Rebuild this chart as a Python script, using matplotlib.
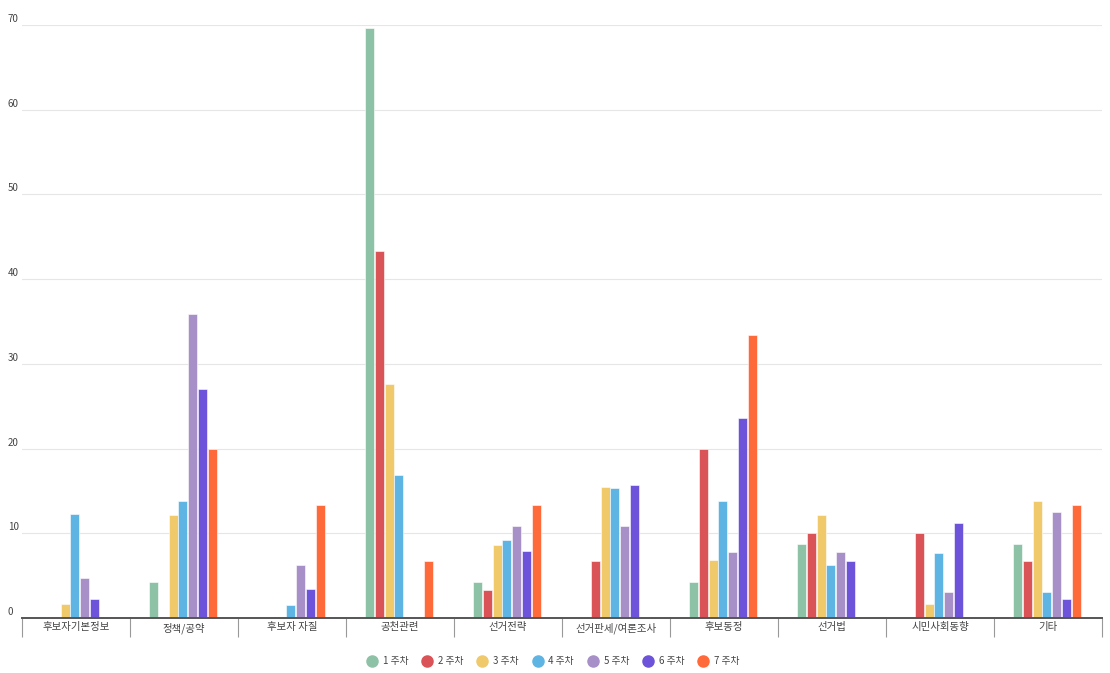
import matplotlib
matplotlib.use("Agg")
import matplotlib.pyplot as plt
import numpy as np
from matplotlib.transforms import blended_transform_factory, offset_copy
from matplotlib.lines import Line2D

plt.rcParams['font.family'] = ['Noto Sans CJK KR', 'DejaVu Sans']

categories = ["후보자기본정보", "정책/공약", "후보자 자질", "공천관련", "선거전략",
              "선거판세/여론조사", "후보동정", "선거법", "시민사회동향", "기타"]
series_names = ["1 주차", "2 주차", "3 주차", "4 주차", "5 주차", "6 주차", "7 주차"]

week1 = [0, 4.3, 0, 69.7, 4.3, 0, 4.3, 8.7, 0, 8.7]
week2 = [0, 0, 0, 43.3, 3.3, 6.7, 20.0, 10.0, 10.0, 6.7]
week3 = [1.7, 12.1, 0, 27.6, 8.6, 15.5, 6.9, 12.1, 1.7, 13.8]
week4 = [12.3, 13.8, 1.5, 16.9, 9.2, 15.4, 13.8, 6.2, 7.7, 3.1]
week5 = [4.7, 35.9, 6.3, 0, 10.9, 10.9, 7.8, 7.8, 3.1, 12.5]
week6 = [2.2, 27.0, 3.4, 0, 7.9, 15.7, 23.6, 6.7, 11.2, 2.2]
week7 = [0, 20.0, 13.3, 6.7, 13.3, 0, 33.4, 0, 0, 13.3]
series = [week1, week2, week3, week4, week5, week6, week7]

colors = ["#8EC2A6", "#D95357", "#F0C96A", "#5EB5E3", "#A78FC7", "#6D53DA", "#FF6A3B"]

W, H = 1110, 673
fig = plt.figure(figsize=(W / 100, H / 100), dpi=100)
ax_left, ax_right, ax_top, ax_bottom = 22, 1102, 25, 618
ax = fig.add_axes([ax_left / W, 1 - ax_bottom / H, (ax_right - ax_left) / W, (ax_bottom - ax_top) / H])

n = len(categories)
x = np.arange(n)
slot = 0.091
bw = 0.084
for i, (vals, c) in enumerate(zip(series, colors)):
    offs = (i - 3) * slot
    ax.bar(x + offs - 0.01, vals, width=bw, color=c, edgecolor='white', linewidth=0.4, zorder=3)

ax.set_xlim(-0.5, n - 0.5)
ax.set_ylim(0, 70)
ax.set_yticks(np.arange(0, 71, 10))
ax.yaxis.grid(True, color='#e6e6e6', linewidth=0.8, zorder=0)
ax.tick_params(axis='y', length=0, labelleft=False)

trans = blended_transform_factory(ax.transAxes, ax.transData)
trans = offset_copy(trans, fig=fig, x=0, y=1, units='dots')
for v in range(0, 71, 10):
    ax.text(-14 / (ax_right - ax_left), v, str(v), transform=trans, ha='left', va='bottom',
            fontsize=7, color='#444444')

for s in ['top', 'right', 'left']:
    ax.spines[s].set_visible(False)
ax.spines['bottom'].set_color('#555555')
ax.spines['bottom'].set_linewidth(1.4)
ax.spines['bottom'].set_zorder(5)

ax.set_xticks(x)
ax.set_xticklabels(categories, fontsize=7.5, color='#444444')
ax.tick_params(axis='x', length=0, pad=3)
ax.set_xticks(np.arange(-0.5, n, 1), minor=True)
ax.tick_params(axis='x', which='minor', length=14, width=0.8, color='#999999')

handles = [Line2D([0], [0], marker='o', linestyle='none', markersize=8,
                  markerfacecolor=c, markeredgecolor=c) for c in colors]
fig.legend(handles, series_names, loc='center', bbox_to_anchor=(551 / W, 1 - 661 / H),
           ncol=7, frameon=False, fontsize=7, handletextpad=0.1, columnspacing=0.95,
           labelcolor='#444444')

fig.savefig("out.png", dpi=100)
